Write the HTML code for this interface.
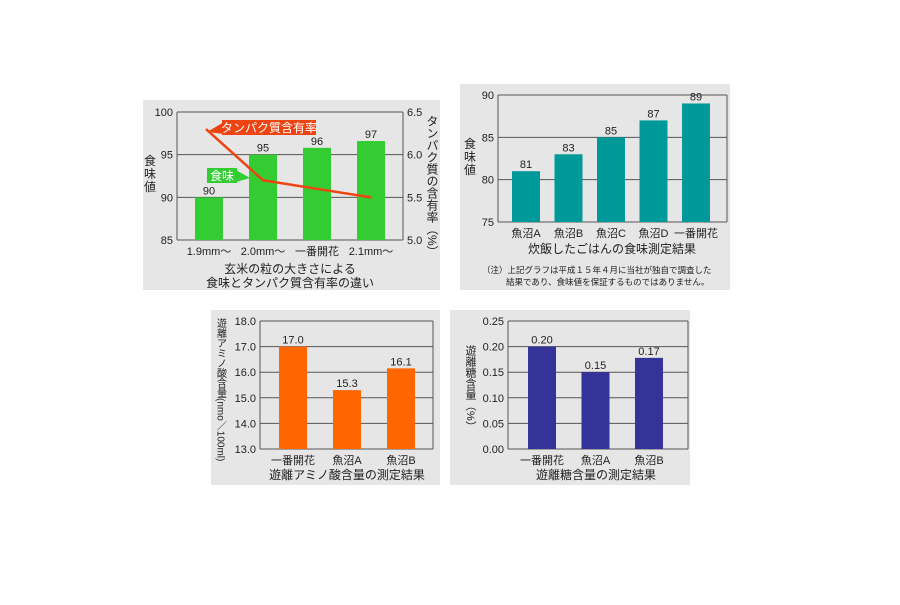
<!DOCTYPE html>
<html><head><meta charset="utf-8"><style>
body{margin:0;background:#fff;width:900px;height:600px;overflow:hidden;font-family:"Liberation Sans","Noto Sans CJK JP",sans-serif}
svg text{font-family:"Liberation Sans","Noto Sans CJK JP",sans-serif;fill:#222}
</style></head><body>
<svg id="c" width="900" height="600" xmlns="http://www.w3.org/2000/svg">
<rect x="143" y="100" width="297" height="190" fill="#e6e6e6"/>
<rect x="460" y="84" width="270" height="206" fill="#e6e6e6"/>
<rect x="211" y="310" width="229" height="175" fill="#e6e6e6"/>
<rect x="450" y="310" width="240" height="175" fill="#e6e6e6"/>
</svg>
<script>
const c1Cats=["1.9mm～","2.0mm～","一番開花","2.1mm～"];
const c1Vals=[90,95,95.8,96.6];
const c1Labels=["90","95","96","97"];
const c1Protein=[6.3,5.7,5.6,5.5];
const c1Ticks=[85,90,95,100];
const c1RTicks=["5.0","5.5","6.0","6.5"];
const c2Cats=["魚沼A","魚沼B","魚沼C","魚沼D","一番開花"];
const c2Vals=[81,83,85,87,89];
const c2Ticks=[75,80,85,90];
const c3Cats=["一番開花","魚沼A","魚沼B"];
const c3Vals=[17.0,15.3,16.15];
const c3Labels=["17.0","15.3","16.1"];
const c3Ticks=["13.0","14.0","15.0","16.0","17.0","18.0"];
const c4Cats=["一番開花","魚沼A","魚沼B"];
const c4Vals=[0.20,0.15,0.178];
const c4Labels=["0.20","0.15","0.17"];
const c4Ticks=["0.00","0.05","0.10","0.15","0.20","0.25"];

const svg=document.getElementById('c');const NS="http://www.w3.org/2000/svg";
function el(t,a,txt){const e=document.createElementNS(NS,t);for(const k in a)e.setAttribute(k,a[k]);if(txt!==undefined)e.textContent=txt;svg.appendChild(e);return e;}

function bar(o){
 const ys=v=>o.y1-(v-o.min)/(o.max-o.min)*(o.y1-o.y0);
 const step=(o.c1-o.c0)/(o.cats.length-1);
 const xs=i=>o.c0+i*step;
 o.ticks.forEach(t=>{const y=ys(+t);
  const g=el('line',{x1:o.x0,x2:o.x1,y1:y,y2:y,stroke:'#555','stroke-width':1});
  
  const tl=el('text',{x:o.x0-4,y:y+4,'text-anchor':'end','font-size':11},t);
  });
 const ax=el('line',{x1:o.x0,x2:o.x0,y1:o.y0,y2:o.y1,stroke:'#555'});
 const ax2=el('line',{x1:o.x1,x2:o.x1,y1:o.y0,y2:o.y1,stroke:'#555'});
 o.cats.forEach((c,i)=>{const x=xs(i),y=ys(o.vals[i]);
  const r=el('rect',{x:x-14,y:y,width:28,height:o.y1-y,fill:o.color});
  
  const l=el('text',{x:x,y:y-3,'text-anchor':'middle','font-size':11},o.labels?o.labels[i]:o.vals[i]);
  
  const cl=el('text',{x:x,y:o.y1+15,'text-anchor':'middle','font-size':11},c);
  });
 return {xs,ys};
}
const a=bar({id:'c1',cats:c1Cats,vals:c1Vals,labels:c1Labels,ticks:c1Ticks,min:85,max:100,x0:177,x1:403,y0:112,y1:240,c0:209,c1:371,color:'#33cc33'});
c1RTicks.forEach(t=>{const y=240-(+t-5)/1.5*128;const tl=el('text',{x:407,y:y+4,'font-size':11},t);});
let pts=c1Protein.map((v,i)=>a.xs(i)+(i==0?-3:0)+','+(240-(v-5)/1.5*128)).join(' ');
const pl=el('polyline',{points:pts,fill:'none',stroke:'#ee4411','stroke-width':2.5});
const b=bar({id:'c2',cats:c2Cats,vals:c2Vals,ticks:c2Ticks,min:75,max:90,x0:498,x1:727,y0:95,y1:222,c0:526,c1:696,color:'#009999'});
bar({id:'c3',cats:c3Cats,vals:c3Vals,labels:c3Labels,ticks:c3Ticks,min:13,max:18,x0:260,x1:433,y0:321,y1:449,c0:293,c1:401,color:'#ff6600'});
bar({id:'c4',cats:c4Cats,vals:c4Vals,labels:c4Labels,ticks:c4Ticks,min:0,max:0.25,x0:508,x1:688,y0:321,y1:449,c0:542,c1:649,color:'#333399'});
</script>
<svg width="900" height="600" style="position:absolute;left:0;top:0" xmlns="http://www.w3.org/2000/svg">
<g>
<polygon points="207,132 224,122 224,134" fill="#ee4411"/>
<rect x="222" y="120" width="94" height="15" fill="#ee4411"/>
<text x="269" y="132" text-anchor="middle" font-size="12" style="fill:#fff">タンパク質含有率</text></g>
<g>
<polygon points="236,170 250,178 236,182" fill="#33cc33"/>
<rect x="207" y="168" width="30" height="15" fill="#33cc33"/>
<text x="222" y="180" text-anchor="middle" font-size="12" style="fill:#fff">食味</text></g>
<text x="150" y="165" font-size="12" text-anchor="middle"><tspan x="150" dy="0">食</tspan><tspan x="150" dy="13">味</tspan><tspan x="150" dy="13">値</tspan></text>
<text x="432" y="115" font-size="12" writing-mode="tb" style="writing-mode:vertical-rl">タンパク質の含有率（%）</text>
<text x="290" y="273" font-size="12" text-anchor="middle">玄米の粒の大きさによる</text>
<text x="290" y="287" font-size="12" text-anchor="middle">食味とタンパク質含有率の違い</text>
<text x="470" y="148" font-size="12" text-anchor="middle"><tspan x="470" dy="0">食</tspan><tspan x="470" dy="13">味</tspan><tspan x="470" dy="13">値</tspan></text>
<text x="612" y="253" font-size="12" text-anchor="middle">炊飯したごはんの食味測定結果</text>
<text x="482" y="273" font-size="8.5">（注）上記グラフは平成１５年４月に当社が独自で調査した</text>
<text x="506" y="285" font-size="8.5">結果であり、食味値を保証するものではありません。</text>
<text x="220" y="318" font-size="10" style="writing-mode:vertical-rl">遊離アミノ酸含量(nmo／100ml)</text>
<text x="347" y="479" font-size="12" text-anchor="middle">遊離アミノ酸含量の測定結果</text>
<text x="470" y="345" font-size="11" style="writing-mode:vertical-rl">遊離糖含量（%）</text>
<text x="596" y="479" font-size="12" text-anchor="middle">遊離糖含量の測定結果</text>
</svg>
</body></html>
